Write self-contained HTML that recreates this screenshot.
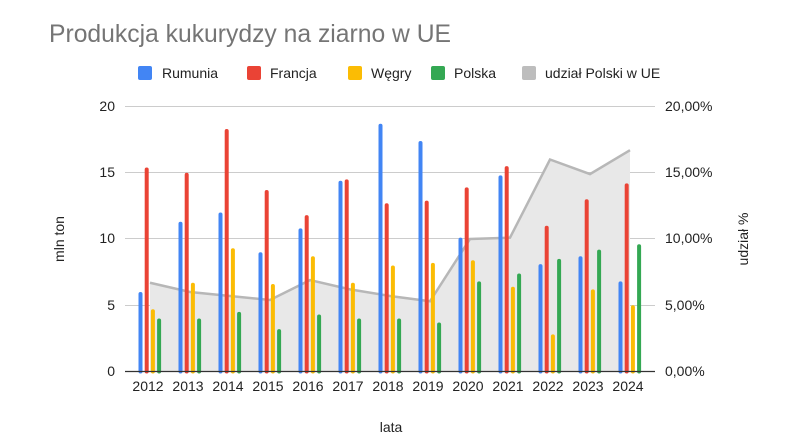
<!DOCTYPE html>
<html><head><meta charset="utf-8"><style>body{margin:0;background:#fff}svg{display:block;font-family:"Liberation Sans",Arial,sans-serif}</style></head>
<body>
<svg width="795" height="438" viewBox="0 0 795 438" xmlns="http://www.w3.org/2000/svg">
<rect width="795" height="438" fill="#fff"/>
<text x="49" y="42" font-size="24.7" fill="#757575">Produkcja kukurydzy na ziarno w UE</text>
<g font-size="14" fill="#222">
<rect x="138" y="66" width="14" height="14" rx="2" fill="#4285f4"/><text x="162" y="78">Rumunia</text>
<rect x="247" y="66" width="14" height="14" rx="2" fill="#ea4335"/><text x="270" y="78">Francja</text>
<rect x="348" y="66" width="14" height="14" rx="2" fill="#fbbc04"/><text x="371" y="78">Węgry</text>
<rect x="431" y="66" width="14" height="14" rx="2" fill="#34a853"/><text x="454" y="78">Polska</text>
<rect x="522" y="66" width="14" height="14" rx="2" fill="#bdbdbd"/><text x="545" y="78">udział Polski w UE</text>
</g>
<g stroke="#ccc" stroke-width="1">
<line x1="125" x2="655" y1="106.5" y2="106.5"/><line x1="125" x2="655" y1="172.5" y2="172.5"/>
<line x1="125" x2="655" y1="238.5" y2="238.5"/><line x1="125" x2="655" y1="305.5" y2="305.5"/>
</g>
<g id="area"></g>
<g id="bars"></g>
<line x1="125" x2="655" y1="371.5" y2="371.5" stroke="#333" stroke-width="1.2"/>
<g font-size="14" fill="#222" text-anchor="end">
<text x="115" y="111">20</text><text x="115" y="177">15</text><text x="115" y="243">10</text><text x="115" y="310">5</text><text x="115" y="376">0</text>
</g>
<g font-size="14" fill="#222" text-anchor="start">
<text x="665" y="111">20,00%</text><text x="665" y="177">15,00%</text><text x="665" y="243">10,00%</text><text x="665" y="310">5,00%</text><text x="665" y="376">0,00%</text>
</g>
<g id="xl" font-size="14" fill="#222" text-anchor="middle"></g>
<text x="391" y="432" font-size="14" fill="#222" text-anchor="middle">lata</text>
<text transform="translate(64,239) rotate(-90)" font-size="14" fill="#222" text-anchor="middle">mln ton</text>
<text transform="translate(748,239) rotate(-90)" font-size="14" fill="#222" text-anchor="middle">udział %</text>
<script>
var R=[6.0,11.3,12.0,9.0,10.8,14.4,18.7,17.4,10.1,14.8,8.1,8.7,6.8],
F=[15.4,15.0,18.3,13.7,11.8,14.5,12.7,12.9,13.9,15.5,11.0,13.0,14.2],
W=[4.7,6.7,9.3,6.6,8.7,6.7,8.0,8.2,8.4,6.4,2.8,6.2,5.0],
P=[4.0,4.0,4.5,3.2,4.3,4.0,4.0,3.7,6.8,7.4,8.5,9.2,9.6],
S=[6.7,6.0,5.7,5.4,6.9,6.2,5.7,5.3,10.0,10.1,16.0,14.9,16.7];
var ns="http://www.w3.org/2000/svg",b=document.getElementById("bars"),a=document.getElementById("area"),xl=document.getElementById("xl");
function y(v){return 371.5-v*13.25}
var pts=[];
for(var i=0;i<13;i++){var cx=150+i*40;pts.push(cx+","+y(S[i]));
var t=document.createElementNS(ns,"text");t.setAttribute("x",cx-2);t.setAttribute("y",391);t.textContent=2012+i;xl.appendChild(t);
[[R,-9.5,"#4285f4"],[F,-3.3,"#ea4335"],[W,2.9,"#fbbc04"],[P,9.1,"#34a853"]].forEach(function(s){
var r=document.createElementNS(ns,"rect");var v=s[0][i];r.setAttribute("x",cx+s[1]-2);r.setAttribute("width",4);r.setAttribute("y",y(v));r.setAttribute("height",v*13.25+2);r.setAttribute("rx",2);r.setAttribute("fill",s[2]);b.appendChild(r);});}
var pg=document.createElementNS(ns,"polygon");pg.setAttribute("points","150,371.5 "+pts.join(" ")+" 630,371.5");pg.setAttribute("fill","#e8e8e8");a.appendChild(pg);
var pl=document.createElementNS(ns,"polyline");pl.setAttribute("points",pts.join(" "));pl.setAttribute("fill","none");pl.setAttribute("stroke","#b7b7b7");pl.setAttribute("stroke-width","2.5");a.appendChild(pl);
</script>
</svg>
</body></html>
